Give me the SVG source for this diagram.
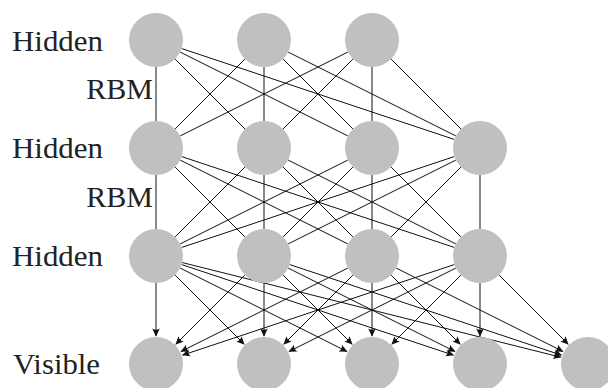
<svg xmlns="http://www.w3.org/2000/svg" width="608" height="388" viewBox="0 0 608 388">
<style>
.n{fill:#c0c0c0;stroke:none}
.e{fill:none;stroke:#111;stroke-width:1}
.a{marker-end:url(#arr)}
.t{font-family:"Liberation Serif","DejaVu Serif",serif;font-size:30px;fill:#222}
</style>
<defs>
<marker id="arr" markerUnits="userSpaceOnUse" markerWidth="10" markerHeight="10" viewBox="-7 -4 8 8" refX="0" refY="0" orient="auto" overflow="visible">
<path d="M0.5,0 L-6,-3 Q-4,0 -6,3 Z" fill="#111"/>
</marker>
</defs>
<rect width="608" height="388" fill="#fff"/>
<g id="connectors">
<g id="l1-l2">
<path class="e" d="M156,67 L156,121"/>
<path class="e" d="M175.09,59.09 L244.91,128.91"/>
<path class="e" d="M180.15,52.07 L347.85,135.93"/>
<path class="e" d="M181.61,48.54 L454.39,139.46"/>
<path class="e" d="M244.91,59.09 L175.09,128.91"/>
<path class="e" d="M264,67 L264,121"/>
<path class="e" d="M283.09,59.09 L352.91,128.91"/>
<path class="e" d="M288.15,52.07 L455.85,135.93"/>
<path class="e" d="M347.85,52.07 L180.15,135.93"/>
<path class="e" d="M352.91,59.09 L283.09,128.91"/>
<path class="e" d="M372,67 L372,121"/>
<path class="e" d="M391.09,59.09 L460.91,128.91"/>
</g>
<g id="l2-l3">
<path class="e" d="M156,175 L156,229"/>
<path class="e" d="M175.09,167.09 L244.91,236.91"/>
<path class="e" d="M180.15,160.07 L347.85,243.93"/>
<path class="e" d="M181.61,156.54 L454.39,247.46"/>
<path class="e" d="M244.91,167.09 L175.09,236.91"/>
<path class="e" d="M264,175 L264,229"/>
<path class="e" d="M283.09,167.09 L352.91,236.91"/>
<path class="e" d="M288.15,160.07 L455.85,243.93"/>
<path class="e" d="M347.85,160.07 L180.15,243.93"/>
<path class="e" d="M352.91,167.09 L283.09,236.91"/>
<path class="e" d="M372,175 L372,229"/>
<path class="e" d="M391.09,167.09 L460.91,236.91"/>
<path class="e" d="M454.39,156.54 L181.61,247.46"/>
<path class="e" d="M455.85,160.07 L288.15,243.93"/>
<path class="e" d="M460.91,167.09 L391.09,236.91"/>
<path class="e" d="M480,175 L480,229"/>
</g>
<g id="l3-l4">
<path class="e a" d="M156,283 L156,336"/>
<path class="e a" d="M175.09,275.09 L244.20,344.20"/>
<path class="e a" d="M180.15,268.07 L346.96,351.48"/>
<path class="e a" d="M181.61,264.54 L453.44,355.15"/>
<path class="e a" d="M182.19,262.55 L560.84,357.21"/>
<path class="e a" d="M244.91,275.09 L175.80,344.20"/>
<path class="e a" d="M264,283 L264,336"/>
<path class="e a" d="M283.09,275.09 L352.20,344.20"/>
<path class="e a" d="M288.15,268.07 L454.96,351.48"/>
<path class="e a" d="M289.61,264.54 L561.44,355.15"/>
<path class="e a" d="M347.85,268.07 L181.04,351.48"/>
<path class="e a" d="M352.91,275.09 L283.80,344.20"/>
<path class="e a" d="M372,283 L372,336"/>
<path class="e a" d="M391.09,275.09 L460.20,344.20"/>
<path class="e a" d="M396.15,268.07 L562.96,351.48"/>
<path class="e a" d="M454.39,264.54 L182.56,355.15"/>
<path class="e a" d="M455.85,268.07 L289.04,351.48"/>
<path class="e a" d="M460.91,275.09 L391.80,344.20"/>
<path class="e a" d="M480,283 L480,336"/>
<path class="e a" d="M499.09,275.09 L568.20,344.20"/>
</g>
</g>
<g id="h3-1"><circle class="n" cx="156" cy="40" r="27"/></g>
<g id="h3-2"><circle class="n" cx="264" cy="40" r="27"/></g>
<g id="h3-3"><circle class="n" cx="372" cy="40" r="27"/></g>
<g id="h2-1"><circle class="n" cx="156" cy="148" r="27"/></g>
<g id="h2-2"><circle class="n" cx="264" cy="148" r="27"/></g>
<g id="h2-3"><circle class="n" cx="372" cy="148" r="27"/></g>
<g id="h2-4"><circle class="n" cx="480" cy="148" r="27"/></g>
<g id="h1-1"><circle class="n" cx="156" cy="256" r="27"/></g>
<g id="h1-2"><circle class="n" cx="264" cy="256" r="27"/></g>
<g id="h1-3"><circle class="n" cx="372" cy="256" r="27"/></g>
<g id="h1-4"><circle class="n" cx="480" cy="256" r="27"/></g>
<g id="v-1"><circle class="n" cx="156" cy="364" r="27"/></g>
<g id="v-2"><circle class="n" cx="264" cy="364" r="27"/></g>
<g id="v-3"><circle class="n" cx="372" cy="364" r="27"/></g>
<g id="v-4"><circle class="n" cx="480" cy="364" r="27"/></g>
<g id="v-5"><circle class="n" cx="588" cy="364" r="27"/></g>
<g id="labels">
<text class="t" x="12" y="51" textLength="91" lengthAdjust="spacingAndGlyphs">Hidden</text>
<text class="t" x="153" y="99" text-anchor="end">RBM</text>
<text class="t" x="12" y="158" textLength="91" lengthAdjust="spacingAndGlyphs">Hidden</text>
<text class="t" x="153" y="207" text-anchor="end">RBM</text>
<text class="t" x="12" y="266" textLength="91" lengthAdjust="spacingAndGlyphs">Hidden</text>
<text class="t" x="13" y="374" textLength="87" lengthAdjust="spacingAndGlyphs">Visible</text>
</g>
</svg>
